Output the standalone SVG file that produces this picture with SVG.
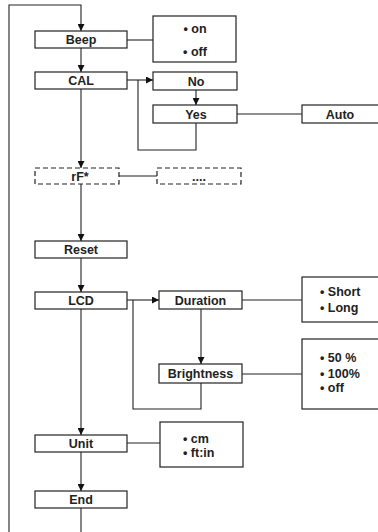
<svg xmlns="http://www.w3.org/2000/svg" width="378" height="532" viewBox="0 0 378 532">
<defs>
<style>
.box{fill:#fff;stroke:#222;stroke-width:1.2}
.dash{fill:#fff;stroke:#222;stroke-width:1.2;stroke-dasharray:5 3}
.ln{fill:none;stroke:#222;stroke-width:1.1}
text{font-family:"Liberation Sans",Arial,sans-serif;font-weight:bold;font-size:12.5px;fill:#222}
.c{text-anchor:middle}
</style>
<marker id="ah" viewBox="0 0 10 10" refX="10" refY="5" markerWidth="7" markerHeight="7" markerUnits="userSpaceOnUse" orient="auto">
<path d="M0,0 L10,5 L0,10 Z" fill="#111"/>
</marker>
</defs>
<rect width="378" height="532" fill="#fff"/>
<g id="connectors">
<path class="ln" d="M9,532 V5 H81 V31" marker-end="url(#ah)"/>
<path class="ln" d="M127,40 H153"/>
<path class="ln" d="M81,48 V72" marker-end="url(#ah)"/>
<path class="ln" d="M127,80 H153" marker-end="url(#ah)"/>
<path class="ln" d="M138,80 V150 H196 V123"/>
<path class="ln" d="M196,90 V105" marker-end="url(#ah)"/>
<path class="ln" d="M237,114 H302"/>
<path class="ln" d="M81,89 V168" marker-end="url(#ah)"/>
<path class="ln" d="M119,176 H157"/>
<path class="ln" d="M81,184 V241" marker-end="url(#ah)"/>
<path class="ln" d="M81,258 V292" marker-end="url(#ah)"/>
<path class="ln" d="M127,300 H159" marker-end="url(#ah)"/>
<path class="ln" d="M133,300 V409 H201 V383"/>
<path class="ln" d="M201,309 V364" marker-end="url(#ah)"/>
<path class="ln" d="M242,300 H302"/>
<path class="ln" d="M242,374 H302"/>
<path class="ln" d="M81,309 V435" marker-end="url(#ah)"/>
<path class="ln" d="M127,443 H160"/>
<path class="ln" d="M81,452 V491" marker-end="url(#ah)"/>
<path class="ln" d="M81,508 V532"/>
</g>
<g id="beep"><rect class="box" x="35" y="31" width="92" height="17"/><text class="c" x="81" y="44">Beep</text></g>
<g id="beep-opts"><rect class="box" x="153" y="16" width="83" height="46"/><text class="c" x="195" y="33">• on</text><text class="c" x="195" y="56">• off</text></g>
<g id="cal"><rect class="box" x="35" y="72" width="92" height="17"/><text class="c" x="81" y="85">CAL</text></g>
<g id="no"><rect class="box" x="153" y="72" width="84" height="18"/><text class="c" x="196" y="85.5">No</text></g>
<g id="yes"><rect class="box" x="153" y="105" width="84" height="18"/><text class="c" x="196" y="118.5">Yes</text></g>
<g id="auto"><rect class="box" x="302" y="105" width="78" height="18"/><text class="c" x="340" y="118.5">Auto</text></g>
<g id="rf"><rect class="dash" x="35" y="168" width="84" height="16"/><text class="c" x="80" y="180.5">rF*</text></g>
<g id="rf-opts"><rect class="dash" x="157" y="168" width="84" height="16"/><text class="c" x="199" y="180.5">....</text></g>
<g id="reset"><rect class="box" x="35" y="241" width="92" height="17"/><text class="c" x="81" y="254">Reset</text></g>
<g id="lcd"><rect class="box" x="35" y="292" width="92" height="17"/><text class="c" x="81" y="305">LCD</text></g>
<g id="duration"><rect class="box" x="159" y="291" width="83" height="18"/><text class="c" x="200.5" y="304.5">Duration</text></g>
<g id="duration-opts"><rect class="box" x="302" y="277" width="78" height="45"/><text x="320" y="295.5">• Short</text><text x="320" y="311.5">• Long</text></g>
<g id="brightness"><rect class="box" x="159" y="364" width="83" height="19"/><text class="c" x="200.5" y="378">Brightness</text></g>
<g id="brightness-opts"><rect class="box" x="302" y="339" width="78" height="70"/><text x="320" y="361.5">• 50 %</text><text x="320" y="377.5">• 100%</text><text x="320" y="391.5">• off</text></g>
<g id="unit"><rect class="box" x="35" y="435" width="92" height="17"/><text class="c" x="81" y="448">Unit</text></g>
<g id="unit-opts"><rect class="box" x="160" y="422" width="83" height="45"/><text x="183" y="442.5">• cm</text><text x="183" y="456.5">• ft:in</text></g>
<g id="end"><rect class="box" x="35" y="491" width="92" height="17"/><text class="c" x="81" y="504">End</text></g>
</svg>
